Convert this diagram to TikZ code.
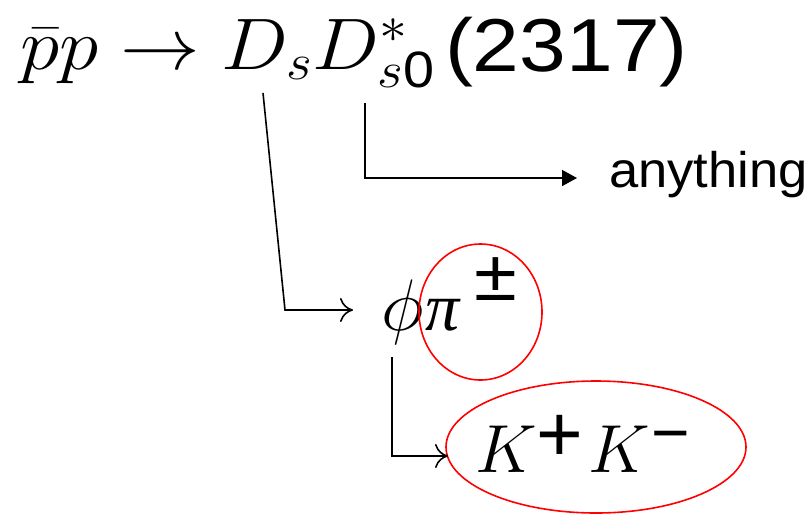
\RequirePackage{fix-cm}
\documentclass[tikz,border=0pt]{standalone}
\usepackage{graphicx}
\usepackage{fontspec}
\setsansfont{Liberation Sans}
\newfontfamily\serifb{Liberation Serif}
\usetikzlibrary{arrows.meta,shapes.geometric}
\tikzset{
  txt/.style={inner sep=0pt, outer sep=0pt, anchor=base west},
  conn/.style={line width=1.6pt, black},
  cmarrow/.style={conn, -{Computer Modern Rightarrow[length=13pt,width=24pt,line width=1.6pt]}},
  triarrow/.style={conn, -{Triangle[length=15pt,width=16pt]}},
  ring/.style={ellipse, draw=red, line width=1.6pt, inner sep=0pt}
}
\begin{document}
\begin{tikzpicture}[x=1pt,y=-1pt]
\useasboundingbox (0,0) rectangle (810,515);
% main formula
\node[txt] (top) at (20,69) {\fontsize{73}{80}\selectfont\scalebox{1.09}[1]{$\bar pp\to D_sD^*_{s\mathsf{0}}$}};
\node[txt] (mass) at (445,71) {\fontsize{75}{80}\selectfont\sffamily\scalebox{1.12}[1]{(2317)}};
\node[txt] (any) at (609,187) {\fontsize{50}{60}\selectfont\sffamily\scalebox{1.05}[1]{anything}};
% phi pi +-
\node[txt] (phi) at (381,330) {\fontsize{73}{80}\selectfont$\phi$};
\node[txt] (pi) at (425,330) {\fontsize{68}{80}\selectfont\serifb\itshape π};
\node[txt] (pm) at (474,300) {\fontsize{72}{80}\selectfont\sffamily\scalebox{1.08}[1]{±}};
% K+ K-
\node[txt] (k1) at (475,472) {\fontsize{68}{80}\selectfont$K$};
\node[txt] (plus) at (536,461) {\fontsize{80}{80}\selectfont\sffamily +};
\node[txt] (k2) at (588,472) {\fontsize{68}{80}\selectfont$K$};
\node[txt] (minus) at (651,455) {\fontsize{66}{80}\selectfont\sffamily −};
% red rings
\node[ring, minimum width=123pt, minimum height=136pt] (ring1) at (480.5,312) {};
\node[ring, minimum width=300pt, minimum height=132pt] (ring2) at (596,447) {};
% connectors
\coordinate (a1) at (263,93);
\coordinate (a2) at (285,310);
\coordinate (a3) at (353,310);
\draw[cmarrow] (a1) -- (a2) -- (a3);
\coordinate (b1) at (365,103);
\coordinate (b2) at (365,178);
\coordinate (b3) at (577,178);
\draw[triarrow] (b1) -- (b2) -- (b3);
\coordinate (c1) at (392,357);
\coordinate (c2) at (392,456);
\coordinate (c3) at (448,456);
\draw[cmarrow] (c1) -- (c2) -- (c3);
\end{tikzpicture}
\end{document}
